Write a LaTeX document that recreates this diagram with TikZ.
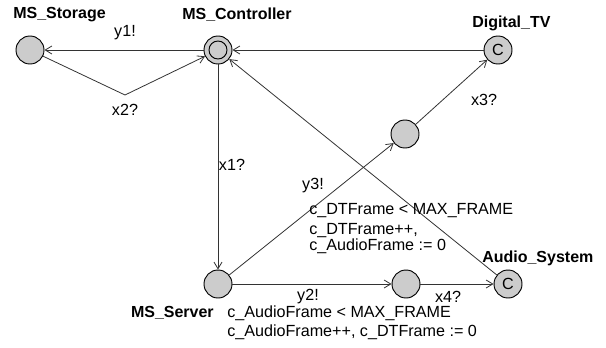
\documentclass[tikz,border=0pt]{standalone}
\usepackage{fontspec}
\setmainfont{Liberation Sans}
\usetikzlibrary{arrows.meta}

\begin{document}
\begin{tikzpicture}[x=0.75pt, y=-0.75pt,
  loc/.style={circle, draw=black, line width=0.7pt, fill=black!20, minimum size=21pt, inner sep=0pt},
  trans/.style={draw=black!80, line width=0.6pt, -{Straight Barb[length=5pt, width=6pt]}},
  lbl/.style={inner sep=0pt, font=\fontsize{12.1}{12.3}\selectfont},
  locname/.style={lbl, font=\fontsize{12}{12.5}\selectfont\bfseries}]
  \useasboundingbox (0,0) rectangle (606,347);

  % locations
  \node[loc] (stor) at (30,50) {};
  \node[loc] (ctrl) at (218,50) {};
  \draw[line width=0.7pt] (ctrl) circle[radius=9];
  \node[loc, lbl] (dtv) at (498,50) {C};
  \node[loc] (mid) at (405,134) {};
  \node[loc] (srv) at (218,284) {};
  \node[loc] (low) at (406,284) {};
  \node[loc, lbl] (audio) at (508,284) {C};

  % location names
  \node[locname, anchor=west] (storname) at (13,15) {MS\_Storage};
  \node[locname, anchor=west] (ctrlname) at (182,15) {MS\_Controller};
  \node[locname, anchor=west] (dtvname) at (472,23) {Digital\_TV};
  \node[locname, anchor=west] (audioname) at (482,258) {Audio\_System};
  \node[locname, anchor=east] (srvname) at (214,313) {MS\_Server};

  % transitions
  \coordinate (bend) at (125,95);
  \draw[trans] (ctrl) -- (stor);
  \draw[trans] (stor) -- (bend) -- (ctrl);
  \draw[trans] (dtv) -- (ctrl);
  \draw[trans] (ctrl) -- (srv);
  \draw[trans] (audio) -- (ctrl);
  \draw[trans] (srv) -- (mid);
  \draw[trans] (mid) -- (dtv);
  \draw[trans] (srv) -- (low);
  \draw[trans] (low) -- (audio);

  % synchronisations, guards and updates
  \node[lbl] (y1) at (125,33) {y1!};
  \node[lbl] (x2) at (125,110) {x2?};
  \node[lbl] (x1) at (232,165) {x1?};
  \node[lbl] (x3) at (484,100) {x3?};
  \node[lbl] (y3) at (313,186) {y3!};
  \node[lbl, anchor=west] (dtguard) at (309,211) {c\_DTFrame < MAX\_FRAME};
  \node[lbl, anchor=north west, align=left] (dtupd) at (309,223) {c\_DTFrame++,\\c\_AudioFrame := 0};
  \node[lbl] (y2) at (308,297) {y2!};
  \node[lbl] (x4) at (448,297) {x4?};
  \node[lbl, anchor=west] (auguard) at (227,313) {c\_AudioFrame < MAX\_FRAME};
  \node[lbl, anchor=west] (auupd) at (227,332) {c\_AudioFrame++, c\_DTFrame := 0};
\end{tikzpicture}
\end{document}
